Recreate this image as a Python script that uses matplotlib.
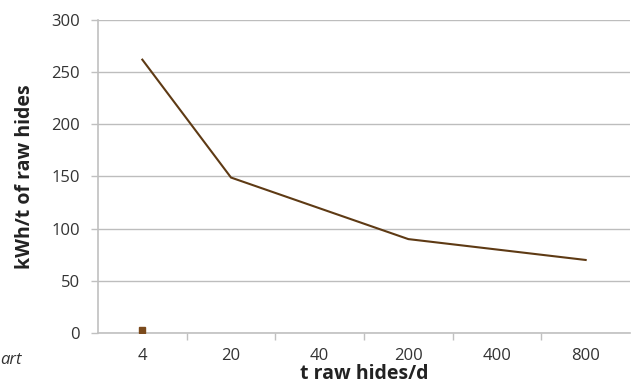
import numpy as np
import matplotlib
matplotlib.use("Agg")
import matplotlib.pyplot as plt
from matplotlib.ticker import FixedLocator

categories = ["4", "20", "40", "200", "400", "800"]
energy = [262, 149, np.nan, 90, np.nan, 70]
marker_series = [3, np.nan, np.nan, np.nan, np.nan, np.nan]
yticks = [0, 50, 100, 150, 200, 250, 300]

plt.rcParams['font.family'] = ['Open Sans', 'DejaVu Sans']

fig = plt.figure(figsize=(6.34, 3.88), dpi=100)
ax = fig.add_axes([98/634, 55/388, 532/634, 313/388])

x = np.arange(len(categories))
e = np.array(energy, dtype=float)
m = ~np.isnan(e)
ax.plot(x[m], e[m], color="#5e3a14", lw=1.5, solid_joinstyle="miter", zorder=3)
ms = np.array(marker_series, dtype=float)
mm = ~np.isnan(ms)
ax.plot(x[mm], ms[mm], ls="none", marker="s", ms=4, color="#7b4a1c", zorder=4)

ax.set_xlim(-0.5, len(categories) - 0.5)
ax.set_ylim(0, 300)
ax.set_yticks(yticks)
ax.set_xticks(x)
ax.set_xticklabels(categories)
ax.xaxis.set_minor_locator(FixedLocator(np.arange(0.5, len(categories) - 0.5, 1)))
ax.tick_params(axis="x", which="major", length=0, pad=11, labelsize=12, labelcolor="#333333")
ax.tick_params(axis="x", which="minor", length=5, width=1, color="#c0c0c0", direction="out")
ax.tick_params(axis="y", length=5, width=1, color="#c0c0c0", pad=8, labelsize=12, labelcolor="#333333")

ax.grid(axis="y", color="#bdbdbd", lw=1)
ax.set_axisbelow(True)
for s in ["top", "right"]:
    ax.spines[s].set_visible(False)
ax.spines["left"].set_color("#c0c0c0")
ax.spines["bottom"].set_color("#c0c0c0")
ax.spines["left"].set_linewidth(1.2)
ax.spines["bottom"].set_linewidth(1.2)

ax.set_xlabel("t raw hides/d", fontsize=14, fontweight="bold", color="#222222", labelpad=0)
ax.set_ylabel("kWh/t of raw hides", fontsize=14, fontweight="bold", color="#222222", labelpad=12)

fig.text(0.0, 28/388, "art", fontsize=12, style="italic", color="#333333", ha="left", va="center")

fig.savefig("out.png", dpi=100)
